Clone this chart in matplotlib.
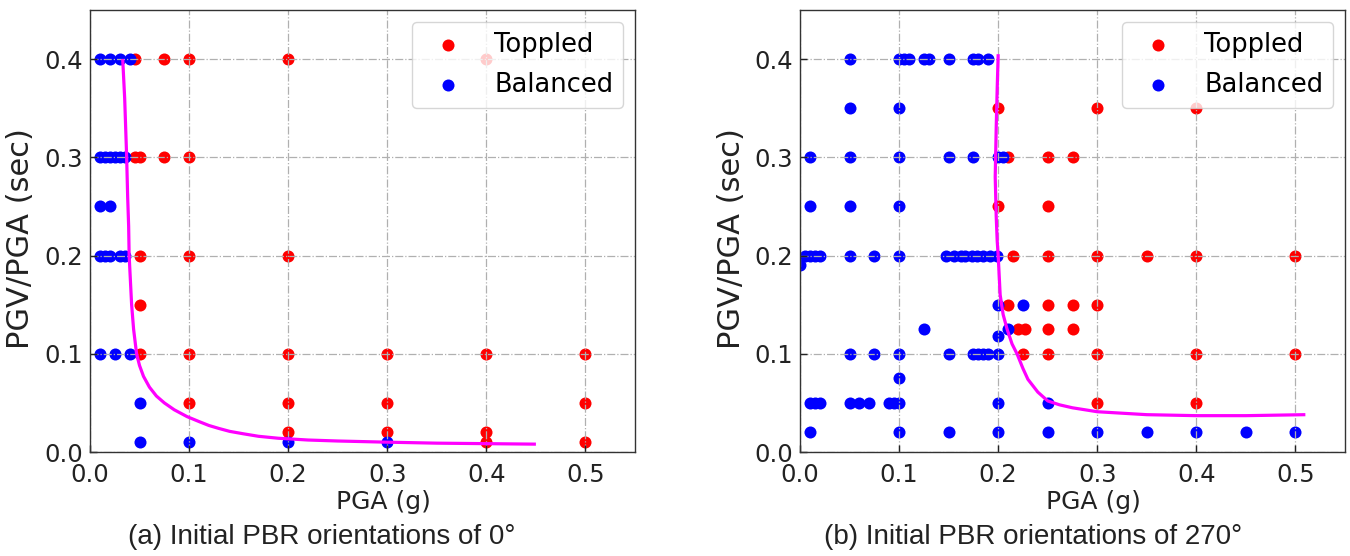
import matplotlib
matplotlib.use("Agg")
import matplotlib.pyplot as plt

# ---------------- data: panel (a), orientation 0 deg ----------------
a_top_x = [0.045, 0.075, 0.1, 0.2, 0.4,
           0.045, 0.05, 0.075, 0.1,
           0.05, 0.1, 0.2,
           0.05,
           0.05, 0.1, 0.2, 0.3, 0.4, 0.5,
           0.1, 0.2, 0.3, 0.5,
           0.2, 0.3, 0.4,
           0.4, 0.5]
a_top_y = [0.4, 0.4, 0.4, 0.4, 0.4,
           0.3, 0.3, 0.3, 0.3,
           0.2, 0.2, 0.2,
           0.15,
           0.1, 0.1, 0.1, 0.1, 0.1, 0.1,
           0.05, 0.05, 0.05, 0.05,
           0.02, 0.02, 0.02,
           0.01, 0.01]
a_bal_x = [0.01, 0.02, 0.03, 0.04,
           0.01, 0.015, 0.02, 0.025, 0.03, 0.035,
           0.01, 0.02,
           0.01, 0.015, 0.02, 0.03, 0.035,
           0.01, 0.025, 0.04,
           0.05,
           0.05, 0.1, 0.2, 0.3]
a_bal_y = [0.4, 0.4, 0.4, 0.4,
           0.3, 0.3, 0.3, 0.3, 0.3, 0.3,
           0.25, 0.25,
           0.2, 0.2, 0.2, 0.2, 0.2,
           0.1, 0.1, 0.1,
           0.05,
           0.01, 0.01, 0.01, 0.01]
a_curve_x = [0.033, 0.035, 0.036, 0.037, 0.038, 0.039, 0.0395, 0.041, 0.042, 0.044,
             0.047, 0.050, 0.054, 0.060, 0.067, 0.075, 0.085, 0.098, 0.11, 0.12,
             0.13, 0.141, 0.155, 0.17, 0.19, 0.22, 0.25, 0.3, 0.35, 0.4, 0.45]
a_curve_y = [0.40, 0.36, 0.33, 0.30, 0.26, 0.23, 0.20, 0.17, 0.15, 0.125,
             0.10, 0.088, 0.077, 0.066, 0.057, 0.050, 0.043, 0.036, 0.031, 0.027,
             0.024, 0.021, 0.0185, 0.016, 0.014, 0.0122, 0.0112, 0.010, 0.009, 0.0085, 0.008]

# ---------------- data: panel (b), orientation 270 deg ----------------
b_top_x = [0.2, 0.3, 0.4,
           0.21, 0.25, 0.275,
           0.2, 0.25,
           0.215, 0.25, 0.3, 0.35, 0.4, 0.5,
           0.21, 0.25, 0.275, 0.3,
           0.22, 0.227, 0.25, 0.275,
           0.225, 0.25, 0.3, 0.4, 0.5,
           0.3, 0.4]
b_top_y = [0.35, 0.35, 0.35,
           0.3, 0.3, 0.3,
           0.25, 0.25,
           0.2, 0.2, 0.2, 0.2, 0.2, 0.2,
           0.15, 0.15, 0.15, 0.15,
           0.125, 0.125, 0.125, 0.125,
           0.1, 0.1, 0.1, 0.1, 0.1,
           0.05, 0.05]
b_bal_x = [0.05, 0.1, 0.105, 0.11, 0.125, 0.13, 0.15, 0.175, 0.18, 0.19,
           0.05, 0.1,
           0.01, 0.05, 0.1, 0.15, 0.175, 0.2, 0.205,
           0.01, 0.05, 0.1,
           0.005, 0.01, 0.015, 0.02, 0.05, 0.075, 0.1,
           0.147, 0.155, 0.162, 0.167, 0.174, 0.179, 0.185, 0.192, 0.199,
           0.0,
           0.2, 0.225,
           0.125, 0.21, 0.2,
           0.05, 0.075, 0.1, 0.15, 0.175, 0.18, 0.185, 0.19, 0.2,
           0.1,
           0.01, 0.015, 0.02, 0.05, 0.06, 0.07, 0.09, 0.095, 0.1, 0.2, 0.25,
           0.01, 0.1, 0.15, 0.2, 0.25, 0.3, 0.35, 0.4, 0.45, 0.5]
b_bal_y = [0.4, 0.4, 0.4, 0.4, 0.4, 0.4, 0.4, 0.4, 0.4, 0.4,
           0.35, 0.35,
           0.3, 0.3, 0.3, 0.3, 0.3, 0.3, 0.3,
           0.25, 0.25, 0.25,
           0.2, 0.2, 0.2, 0.2, 0.2, 0.2, 0.2,
           0.2, 0.2, 0.2, 0.2, 0.2, 0.2, 0.2, 0.2, 0.2,
           0.19,
           0.15, 0.15,
           0.125, 0.125, 0.118,
           0.1, 0.1, 0.1, 0.1, 0.1, 0.1, 0.1, 0.1, 0.1,
           0.075,
           0.05, 0.05, 0.05, 0.05, 0.05, 0.05, 0.05, 0.05, 0.05, 0.05, 0.05,
           0.02, 0.02, 0.02, 0.02, 0.02, 0.02, 0.02, 0.02, 0.02, 0.02]
b_curve_x = [0.2, 0.199, 0.198, 0.197, 0.198, 0.199, 0.2, 0.202, 0.205, 0.209,
             0.214, 0.219, 0.225, 0.23, 0.24, 0.25, 0.262, 0.275, 0.3, 0.35,
             0.4, 0.45, 0.51]
b_curve_y = [0.405, 0.37, 0.33, 0.28, 0.24, 0.215, 0.2, 0.16, 0.14, 0.125,
             0.11, 0.1, 0.085, 0.074, 0.061, 0.052, 0.048, 0.045, 0.041, 0.038,
             0.037, 0.037, 0.038]

x_ticks = [0.0, 0.1, 0.2, 0.3, 0.4, 0.5]
y_ticks = [0.0, 0.1, 0.2, 0.3, 0.4]
captions = ["(a) Initial PBR orientations of 0°", "(b) Initial PBR orientations of 270°"]

fig = plt.figure(figsize=(13.5, 5.56), dpi=100)
W, H = 1350, 556
ax1 = fig.add_axes([90 / W, (H - 452) / H, 545 / W, 442 / H])
ax2 = fig.add_axes([800 / W, (H - 452) / H, 545 / W, 442 / H])

FS = 17.5
panels = [(ax1, a_top_x, a_top_y, a_bal_x, a_bal_y, a_curve_x, a_curve_y),
          (ax2, b_top_x, b_top_y, b_bal_x, b_bal_y, b_curve_x, b_curve_y)]
for ax, tx, ty, bx, by, cx, cy in panels:
    ax.scatter(tx, ty, s=75, color="#ff0000", linewidths=0, label="Toppled", zorder=1)
    ax.scatter(bx, by, s=75, color="#0000ff", linewidths=0, label="Balanced", zorder=1.1)
    ax.plot(cx, cy, color="#ff00ff", lw=2.3, zorder=3, solid_capstyle="butt")
    ax.set_xlim(0, 0.55)
    ax.set_ylim(0, 0.45)
    ax.set_xticks(x_ticks)
    ax.set_yticks(y_ticks)
    ax.grid(True, linestyle="-.", color="#b0b0b0", linewidth=0.9, zorder=1.5)
    ax.tick_params(direction="in", length=5, width=1, labelsize=FS, colors="#222222")
    ax.tick_params(axis="x", pad=8)
    ax.tick_params(axis="y", pad=5)
    for sp in ax.spines.values():
        sp.set_color("#333333")
        sp.set_linewidth(1.0)
    ax.set_xlabel("PGA (g)", fontsize=18, color="#222222")
    ax.xaxis.set_label_coords(0.538, -0.085, transform=ax.transAxes)
    ax.xaxis.label.set_va("top")
    ax.set_ylabel("PGV/PGA (sec)", fontsize=22, color="#222222")
    ax.yaxis.set_label_coords(-0.1, 0.484, transform=ax.transAxes)
    ax.yaxis.label.set_va("bottom")
    ax.legend(loc="upper right", fontsize=18.5, scatterpoints=1, borderaxespad=0.45,
              labelspacing=0.55, framealpha=0.8)

fig.text(322 / W, (H - 537) / H, captions[0], ha="center", va="center",
         fontsize=20, family="Liberation Sans", color="#222222")
fig.text(1033 / W, (H - 537) / H, captions[1], ha="center", va="center",
         fontsize=20, family="Liberation Sans", color="#222222")

fig.savefig("out.png", dpi=100)
